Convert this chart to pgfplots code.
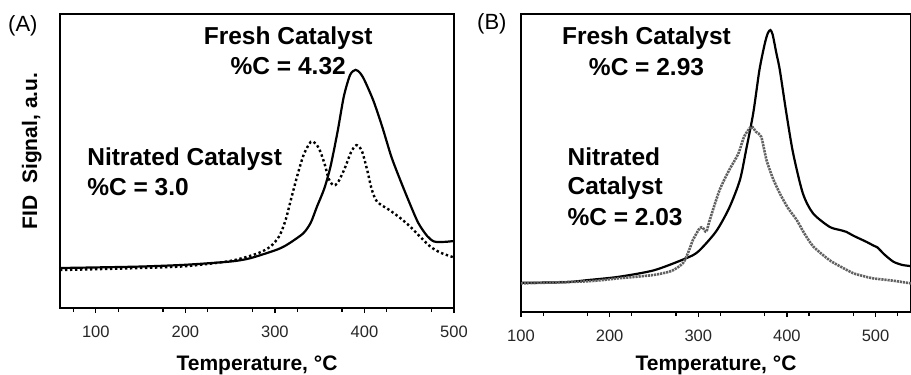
\documentclass[border=0pt]{standalone}
\usepackage{pgfplots}
\pgfplotsset{compat=1.18}
\usepackage{fontspec}
\setmainfont{Liberation Sans}
\begin{document}
\begin{tikzpicture}[x=1pt,y=1pt]
\useasboundingbox (0,0) rectangle (911,375);
\pgfplotsset{
  myaxis/.style={
    anchor=south west, scale only axis, clip mode=individual,
    ymin=0, ymax=100, ytick=\empty,
    xtick={100,200,...,500},
    minor xtick={75,125,...,525},
    tick align=outside, xtick pos=bottom,
    major tick length=5pt, minor tick length=4pt,
    axis line style={line width=1.6pt},
    every tick/.style={black, line width=1.3pt},
    /pgf/number format/assume math mode=true,
    xticklabel style={font=\fontsize{16.5}{16}\selectfont, yshift=-9pt, text=black!85},
  },
  fresh/.style={black, line width=2.2pt, smooth, tension=0.45},
}
\begin{axis}[myaxis, at={(60pt,67pt)}, width=394pt, height=294pt, xmin=60, xmax=500]
\addplot[fresh] coordinates {
(60,13.6) (100,13.8) (150,14.1) (200,14.7) (250,15.8) (272,16.9) (300,19.6)
(310,20.9) (320,22.8) (332,25.5) (340,29) (347,34.5) (355,40.5) (362,48)
(370,60) (377,72) (384,79.3) (390,81) (395,80) (400,77.5) (410,70.5)
(420,61.5) (430,51.5) (440,43.5) (450,36) (460,29) (470,24.5) (478,22.6)
(490,22.5) (500,22.8)};
\addplot[black, line width=2.4pt, dash pattern=on 2.4pt off 2.6pt, smooth, tension=0.45] coordinates {
(60,12.9) (100,13.2) (150,13.6) (200,14.2) (250,16) (280,18.5) (295,20.9)
(305,24.5) (312,30) (318,37) (325,45) (332,52) (340,56.5) (346,55.8)
(351,53) (356,48.5) (360,44) (365,41.8) (370,42.5) (378,47.5) (385,53)
(391,55.4) (397,53.5) (403,47) (408,40.5) (414,36.2) (428,33.3) (440,30.6)
(451,27.7) (462,24.3) (473.5,20.9) (485,18.8) (500,17.2)};
\node[font=\fontsize{24.5}{28}\selectfont\bfseries, anchor=base] at (axis cs:314.9,89.5) {Fresh Catalyst};
\node[font=\fontsize{24.5}{28}\selectfont\bfseries, anchor=base] at (axis cs:314.9,79.3) {\%C = 4.32};
\node[font=\fontsize{24.5}{28}\selectfont\bfseries, anchor=base west, inner sep=0pt] at (axis cs:90.3,48.6) {Nitrated Catalyst};
\node[font=\fontsize{24.5}{28}\selectfont\bfseries, anchor=base west, inner sep=0pt] at (axis cs:90.3,38.4) {\%C = 3.0};
\node[font=\fontsize{21}{24}\selectfont\bfseries, anchor=base] at (axis description cs:0.5,-0.211) {Temperature, °C};
\node[font=\fontsize{21}{24}\selectfont\bfseries, anchor=base, rotate=90] at (axis description cs:-0.058,0.534) {FID\ \ Signal, a.u.};
\end{axis}
\begin{axis}[myaxis, at={(521pt,63pt)}, width=390pt, height=298pt, xmin=100, xmax=540]
\addplot[fresh] coordinates {
(100,9.8) (150,10.0) (175,10.7) (210,11.8) (250,14.0) (286,18) (300,20.3)
(320,27) (335,35) (347,44.3) (354,54.4) (362,66.7) (369,81.2) (375,90)
(378.5,93.6) (381.4,94.6) (384,93) (388,87) (392,81.2) (399.4,66.7)
(407,53.3) (418,39.8) (429.5,33.1) (448,28.6) (460,27.5) (467,26.9)
(475,25.6) (490,23.5) (497,22.4) (502,21.7) (510,19.3) (520,16.9)
(530,15.8) (540,15.4)};
\addplot[black!62, line width=2.6pt, dash pattern=on 2.2pt off 0.9pt, smooth, tension=0.4] coordinates {
(100,9.6) (175,10.3) (210,11.3) (249,12.4) (270,13.8) (283,16.5) (290,21)
(294,24.2) (301.5,28.1) (305,28.3) (309,26.9) (313,30.9) (324,40.9)
(335,47.7) (345,53) (352,59) (360,62.2) (365,60.5) (371,58.8) (377,51)
(384,45) (392,39.8) (401,35) (411,30.9) (420,26.2) (430,21.9) (448,17.4)
(462,15) (475,13) (487,12) (497,11.3) (520,10.5) (540,9.6)};
\node[font=\fontsize{24.5}{28}\selectfont\bfseries, anchor=base] at (axis cs:241.6,89.6) {Fresh Catalyst};
\node[font=\fontsize{24.5}{28}\selectfont\bfseries, anchor=base] at (axis cs:241.6,79.5) {\%C = 2.93};
\node[font=\fontsize{24.5}{28}\selectfont\bfseries, anchor=base west, inner sep=0pt] at (axis cs:152.3,49.3) {Nitrated};
\node[font=\fontsize{24.5}{28}\selectfont\bfseries, anchor=base west, inner sep=0pt] at (axis cs:152.3,39.3) {Catalyst};
\node[font=\fontsize{24.5}{28}\selectfont\bfseries, anchor=base west, inner sep=0pt] at (axis cs:152.3,28.9) {\%C = 2.03};
\node[font=\fontsize{21}{24}\selectfont\bfseries, anchor=base] at (axis description cs:0.5,-0.195) {Temperature, °C};
\end{axis}
\node[font=\fontsize{22}{24}\selectfont, anchor=base west, inner sep=0pt] at (8,343) {(A)};
\node[font=\fontsize{22}{24}\selectfont, anchor=base west, inner sep=0pt] at (477,345) {(B)};
\end{tikzpicture}
\end{document}
